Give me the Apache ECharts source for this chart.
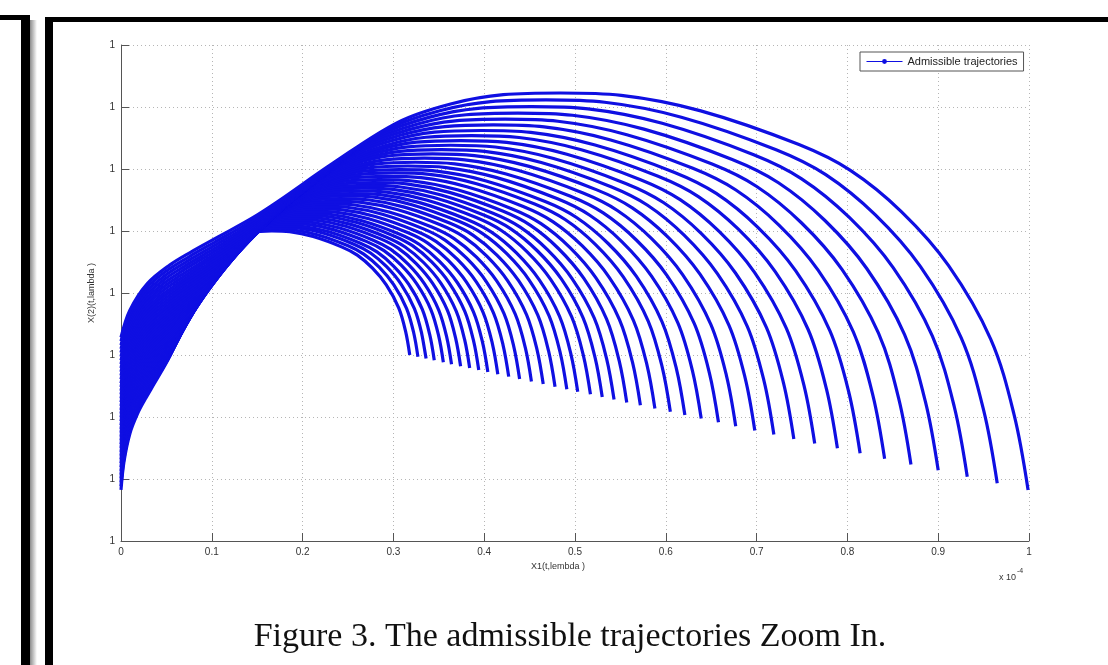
<!DOCTYPE html>
<html><head><meta charset="utf-8">
<script src="https://cdn.jsdelivr.net/npm/echarts@6/dist/echarts.min.js"></script>
<style>html,body{margin:0;padding:0;background:#fff;}#c{width:1108px;height:665px;}</style>
</head><body><div id="c"></div>
<script>
// ---- data (x in units of 1e-4, y in tick steps) ----
const xTickLabels = ['0','0.1','0.2','0.3','0.4','0.5','0.6','0.7','0.8','0.9','1'];
const yTickLabel = '1';
const seriesName = 'Admissible trajectories';
// one entry per trajectory, innermost first
const startY = [0.823,0.885,0.946,1.008,1.069,1.131,1.192,1.254,1.315,1.377,1.438,1.500,1.561,1.623,1.684,1.746,1.807,1.869,1.930,1.992,2.053,2.115,2.176,2.238,2.299,2.361,2.422,2.484,2.545,2.607,2.668,2.730,2.791,2.853,2.914,2.976,3.037,3.099,3.160,3.222,3.283];
const peakX = [0.166,0.170,0.175,0.179,0.183,0.188,0.193,0.197,0.202,0.206,0.212,0.217,0.223,0.228,0.235,0.241,0.247,0.253,0.259,0.265,0.271,0.278,0.284,0.292,0.300,0.307,0.316,0.324,0.334,0.343,0.353,0.363,0.374,0.386,0.397,0.410,0.423,0.437,0.452,0.468,0.484];
const peakY = [5.000,5.029,5.058,5.086,5.119,5.151,5.184,5.216,5.249,5.281,5.317,5.357,5.396,5.436,5.479,5.522,5.565,5.605,5.648,5.692,5.735,5.782,5.828,5.882,5.936,5.990,6.048,6.109,6.174,6.243,6.311,6.383,6.459,6.538,6.621,6.711,6.804,6.902,7.006,7.114,7.226];
const endX = [0.318,0.327,0.336,0.345,0.355,0.364,0.374,0.384,0.394,0.404,0.415,0.427,0.439,0.452,0.465,0.478,0.491,0.503,0.517,0.530,0.543,0.557,0.572,0.588,0.605,0.621,0.639,0.658,0.677,0.698,0.719,0.741,0.764,0.789,0.814,0.841,0.870,0.900,0.932,0.965,0.999];
const endY = [3.000,2.972,2.944,2.915,2.884,2.852,2.820,2.789,2.757,2.725,2.690,2.651,2.612,2.574,2.531,2.489,2.447,2.408,2.366,2.323,2.281,2.235,2.189,2.137,2.084,2.031,1.975,1.915,1.851,1.784,1.717,1.647,1.573,1.495,1.414,1.326,1.235,1.140,1.037,0.932,0.823];
// shape of one trajectory (fraction of the way start->peak, peak->end)
const riseFx = [0,0.02,0.06,0.11,0.16,0.22,0.30,0.36,0.48,0.63,0.75,0.87,1];
const riseFy = [0,0.11,0.22,0.295,0.35,0.41,0.49,0.56,0.71,0.88,0.955,0.993,1];
const fallGx = [0.13,0.30,0.51,0.62,0.73,0.83,0.92,0.97,1];
const fallGy = [0.006,0.045,0.13,0.195,0.30,0.435,0.62,0.81,1];

// ---- build ----
const BLUE = '#0f0fe2';
const series = startY.map((s0, k) => {
  const pts = [];
  riseFx.forEach((f, i) => pts.push([peakX[k] * f, s0 + (peakY[k] - s0) * riseFy[i]]));
  fallGx.forEach((g, i) => pts.push([peakX[k] + (endX[k] - peakX[k]) * g, peakY[k] - (peakY[k] - endY[k]) * fallGy[i]]));
  return {
    name: seriesName, type: 'line', data: pts, smooth: 0.35,
    symbol: 'circle', symbolSize: 4, showSymbol: false,
    lineStyle: {color: BLUE, width: 3.2}, itemStyle: {color: BLUE},
    silent: true, animation: false, z: 3
  };
});

const FONT = '"Liberation Sans", Arial, sans-serif';
const chart = echarts.init(document.getElementById('c'), null, {renderer: 'canvas'});
chart.setOption({
  backgroundColor: '#fff',
  animation: false,
  grid: {left: 121, right: 79, top: 45, bottom: 124, containLabel: false, outerBoundsMode: 'none'},
  xAxis: {
    type: 'value', min: 0, max: 1, interval: 0.1,
    axisLine: {show: true, lineStyle: {color: '#555', width: 1}},
    axisTick: {show: true, inside: true, length: 8, lineStyle: {color: '#555'}},
    axisLabel: {margin: 6, fontSize: 10, fontFamily: FONT, color: '#333',
      formatter: (v) => xTickLabels[Math.round(v * 10)]},
    splitLine: {show: true, lineStyle: {color: '#b5b5b5', type: [1, 3], width: 1}}
  },
  yAxis: {
    type: 'value', min: 0, max: 8, interval: 1,
    name: 'X(2)(t,lambda )', nameLocation: 'middle', nameGap: 25, nameRotate: 90,
    nameTextStyle: {fontSize: 9, fontFamily: FONT, color: '#333'},
    axisLine: {show: true, lineStyle: {color: '#555', width: 1}},
    axisTick: {show: true, inside: true, length: 8, lineStyle: {color: '#555'}},
    axisLabel: {margin: 6, fontSize: 10, fontFamily: FONT, color: '#333', formatter: () => yTickLabel},
    splitLine: {show: true, lineStyle: {color: '#b5b5b5', type: [1, 3], width: 1}}
  },
  legend: {
    data: [seriesName], left: 860, top: 52,
    padding: [4, 6, 4, 6], itemWidth: 36, itemHeight: 6, itemGap: 4,
    borderColor: '#555', borderWidth: 1, borderRadius: 0, backgroundColor: '#fff',
    lineStyle: {width: 1, color: BLUE}, itemStyle: {color: BLUE},
    textStyle: {fontSize: 11, fontFamily: FONT, color: '#222'}
  },
  graphic: [
    {type: 'rect', shape: {x: 0, y: 15, width: 30, height: 5}, style: {fill: '#000'}, z: 10},
    {type: 'rect', shape: {x: 21, y: 15, width: 9, height: 650}, style: {fill: '#000'}, z: 10},
    {type: 'rect', shape: {x: 30, y: 20, width: 7, height: 645}, style: {fill: {type: 'linear', x: 0, y: 0, x2: 1, y2: 0, colorStops: [{offset: 0, color: 'rgba(0,0,0,0.45)'}, {offset: 1, color: 'rgba(0,0,0,0)'}]}}, z: 9},
    {type: 'rect', shape: {x: 45, y: 17, width: 1063, height: 5}, style: {fill: '#000'}, z: 10},
    {type: 'rect', shape: {x: 45, y: 17, width: 8, height: 648}, style: {fill: '#000'}, z: 10},
    {type: 'text', x: 558, y: 567, style: {text: 'X1(t,lembda )', fontSize: 9, fontFamily: FONT, fill: '#333', align: 'center', verticalAlign: 'middle'}, z: 10},
    {type: 'text', x: 1016, y: 578, style: {text: 'x 10', fontSize: 9, fontFamily: FONT, fill: '#333', align: 'right', verticalAlign: 'middle'}, z: 10},
    {type: 'text', x: 1017, y: 571, style: {text: '-4', fontSize: 7, fontFamily: FONT, fill: '#333', align: 'left', verticalAlign: 'middle'}, z: 10},
    {type: 'text', x: 570, y: 637, style: {text: 'Figure 3. The admissible trajectories Zoom In.', fontSize: 34, fontFamily: '"Liberation Serif", "Times New Roman", serif', fill: '#111', align: 'center', verticalAlign: 'middle'}, z: 10}
  ],
  series: series
});
</script>
</body></html>
